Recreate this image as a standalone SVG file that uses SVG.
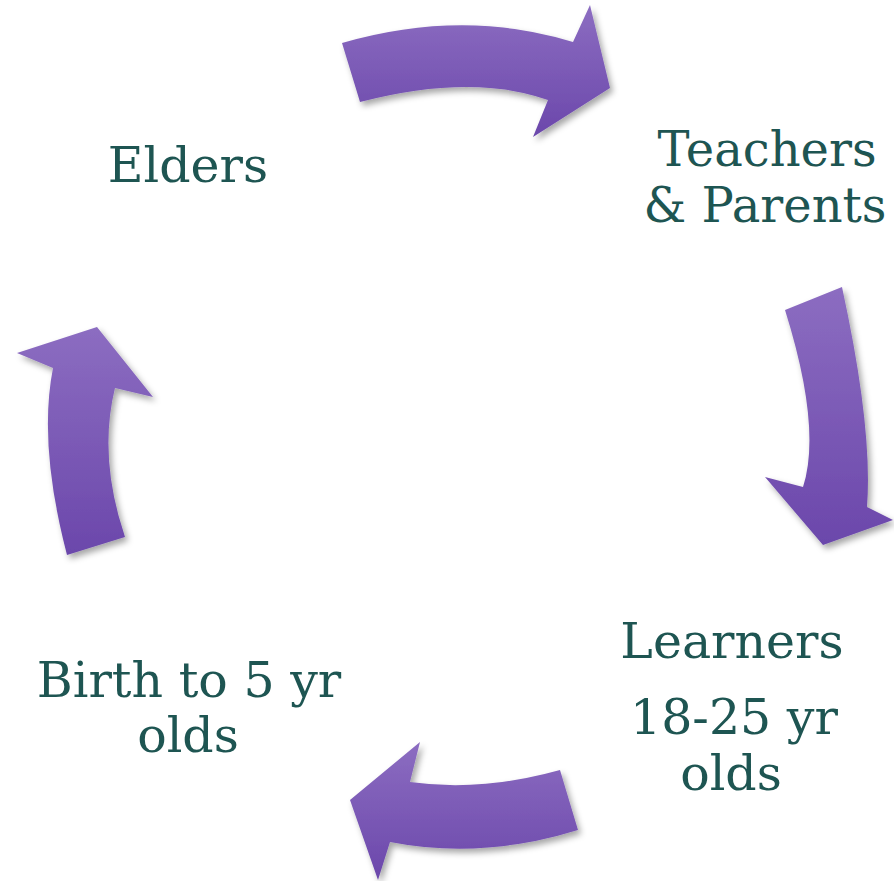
<svg xmlns="http://www.w3.org/2000/svg" width="894" height="881" viewBox="0 0 894 881">
<defs>
<linearGradient id="g" x1="0" y1="0" x2="0" y2="1">
<stop offset="0" stop-color="#8C6DC1"/>
<stop offset="1" stop-color="#6B47AB"/>
</linearGradient>
<filter id="sh" x="-20%" y="-20%" width="140%" height="140%">
<feDropShadow dx="3" dy="4" stdDeviation="3" flood-color="#000" flood-opacity="0.35"/>
</filter>
<style>
.arrow{fill:url(#g);filter:url(#sh);}
.lbl{font-family:"DejaVu Serif","Liberation Serif",serif;font-size:49px;fill:#1E5552;text-anchor:middle;}
.sm{font-size:48px;}
</style>
</defs>
<rect width="894" height="881" fill="#fff"/>
<g id="connectors">
<path class="arrow" d="M342,43 Q463,8 573,42 L590,5 L610,88 L533,137 L548,100 Q472,73 360,102 Z"/>
<path class="arrow" d="M785,310 L842,287 Q873,429 867,507 L893,520 L823,545 L765,477 L803,487 Q822,428 785,310 Z"/>
<path class="arrow" d="M560,770 Q481,792 410,782 L420,742 L350,800 L378,880 L390,842 Q482,860 578,830 Z"/>
<path class="arrow" d="M67,555 L125,537 Q98,457 115,388 L153,397 L97,327 L17,353 L53,368 Q38,444 67,555 Z"/>
</g>
<g id="elders"><text class="lbl" x="188" y="182">Elders</text></g>
<g id="teachers">
<text class="lbl sm" x="767" y="166">Teachers</text>
<text class="lbl sm" x="765" y="222">&amp; Parents</text>
</g>
<g id="learners">
<text class="lbl" x="732" y="658">Learners</text>
<text class="lbl" x="734" y="734">18-25 yr</text>
<text class="lbl" x="731" y="790">olds</text>
</g>
<g id="birth">
<text class="lbl" x="189" y="697">Birth to 5 yr</text>
<text class="lbl" x="188" y="752">olds</text>
</g>
</svg>
